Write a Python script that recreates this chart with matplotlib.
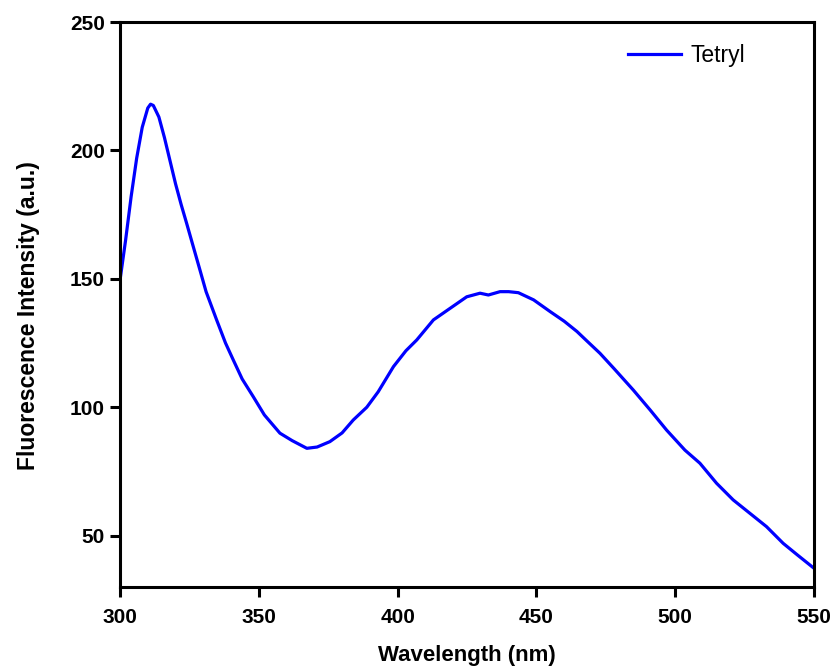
import matplotlib.pyplot as plt

# Emission spectrum of tetryl
wavelength = [300, 302, 304, 306, 308, 310, 311, 312, 314, 316, 318, 320, 322,
              324, 326, 328.8, 331, 334.8, 338, 340.8, 344, 348, 352, 357.6,
              362, 367.3, 371, 375.6, 380, 384, 388.9, 393, 398.5, 403, 406.9,
              412.9, 418.9, 424.9, 429.7, 432.7, 436.9, 440, 443.5, 449, 455,
              460, 464.6, 468, 472.9, 478, 484.9, 491, 496.9, 503.5, 508.9,
              514.9, 520.9, 526.9, 532.9, 538.9, 544, 550]
intensity = [149.5, 165, 182, 197, 209, 216.5, 218, 217.5, 213, 205, 196, 187,
             179, 171.6, 164, 153.4, 145, 134, 125, 118.4, 111, 104.1, 97, 89.9,
             87, 84, 84.5, 86.6, 90, 95, 100, 106, 115.8, 122, 126.2, 134,
             138.5, 143, 144.4, 143.7, 145, 145, 144.6, 141.8, 137.2, 133.5,
             129.5, 126, 121, 115, 106.7, 98.9, 91.1, 83.3, 78.2, 70.4, 63.9,
             58.7, 53.5, 47, 42.5, 37.3]

xticks = [300, 350, 400, 450, 500, 550]
yticks = [50, 100, 150, 200, 250]

plt.rcParams['font.family'] = ['Liberation Sans', 'DejaVu Sans']

fig = plt.figure(figsize=(8.37, 6.71), dpi=100)
ax = fig.add_axes([0.1434, 0.1252, 0.8291, 0.842])

ax.plot(wavelength, intensity, color='#0000ff', lw=2.3, label='Tetryl')

ax.set_xlim(300, 550)
ax.set_ylim(30, 250)
ax.set_xticks(xticks)
ax.set_yticks(yticks)

for s in ax.spines.values():
    s.set_linewidth(2.2)
ax.tick_params(direction='out', length=7, width=2.2, labelsize=15, pad=4,
               top=False, right=False)
ax.tick_params(axis='x', pad=8)
for lbl in ax.get_xticklabels() + ax.get_yticklabels():
    lbl.set_fontweight('bold')

ax.set_xlabel('Wavelength (nm)', fontsize=16, fontweight='bold')
ax.set_ylabel('Fluorescence Intensity (a.u.)', fontsize=16.5,
              fontweight='bold')
ax.xaxis.set_label_coords(0.5, -0.102)
ax.yaxis.set_label_coords(-0.115, 0.48)

ax.legend(loc='center right', frameon=False, fontsize=16.5, handlelength=2.3,
          handletextpad=0.4, bbox_to_anchor=(0.93, 0.94))

fig.savefig('out.png', dpi=100)
